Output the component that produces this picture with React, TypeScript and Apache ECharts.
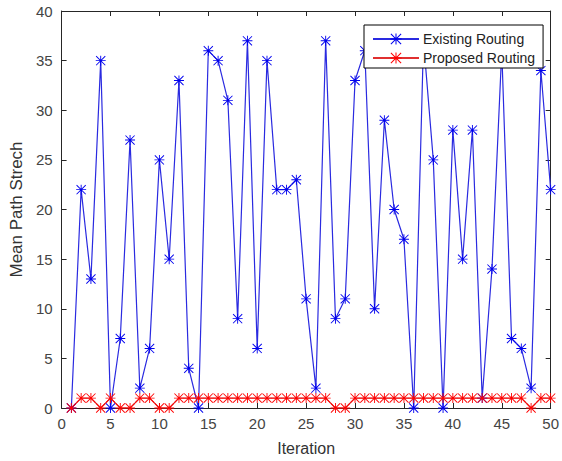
import React, { useEffect, useRef } from "react";
import * as echarts from "echarts";

const iterations = [
  1, 2, 3, 4, 5, 6, 7, 8, 9, 10, 11, 12, 13, 14, 15, 16, 17, 18, 19, 20, 21, 22, 23, 24, 25,
  26, 27, 28, 29, 30, 31, 32, 33, 34, 35, 36, 37, 38, 39, 40, 41, 42, 43, 44, 45, 46, 47, 48, 49, 50,
];
const existingRouting = [
  0, 22, 13, 35, 0, 7, 27, 2, 6, 25, 15, 33, 4, 0, 36, 35, 31, 9, 37, 6, 35, 22, 22, 23, 11,
  2, 37, 9, 11, 33, 36, 10, 29, 20, 17, 0, 37, 25, 0, 28, 15, 28, 1, 14, 36, 7, 6, 2, 34, 22,
];
const proposedRouting = [
  0, 1, 1, 0, 1, 0, 0, 1, 1, 0, 0, 1, 1, 1, 1, 1, 1, 1, 1, 1, 1, 1, 1, 1, 1,
  1, 1, 0, 0, 1, 1, 1, 1, 1, 1, 1, 1, 1, 1, 1, 1, 1, 1, 1, 1, 1, 1, 0, 1, 1,
];
const seriesNames = ["Existing Routing", "Proposed Routing"];
const xTicks = { min: 0, max: 50, interval: 5 };
const yTicks = { min: 0, max: 40, interval: 5 };

const STAR =
  "path://M4.55 0h0.9v10h-0.9zM0 4.55h10v0.9h-10zM0.75 0.1L9.9 9.25L9.25 9.9L0.1 0.75zM9.25 0.1L9.9 0.75L0.75 9.9L0.1 9.25z";

const FONT = "Liberation Sans, Arial, Helvetica, sans-serif";
const AX = "#262626";

export default function App() {
  const ref = useRef<HTMLDivElement>(null);
  useEffect(() => {
    if (!ref.current) return;
    const chart = echarts.init(ref.current, null, { renderer: "svg" });
    const mk = (vals: number[]) => iterations.map((x, i) => [x, vals[i]]);
    const baseAxis = {
      type: "value" as const,
      axisLine: { show: true, onZero: false, lineStyle: { color: AX, width: 1 } },
      axisTick: { show: true, inside: true, length: 5, lineStyle: { color: AX } },
      splitLine: { show: false },
    };
    chart.setOption({
      animation: false,
      backgroundColor: "#ffffff",
      textStyle: { fontFamily: FONT },
      grid: { left: 56, right: 6, top: 11, bottom: 51, containLabel: false },
      legend: {
        data: seriesNames,
        orient: "vertical",
        left: 364,
        top: 25,
        padding: [7, 8, 3, 8],
        itemGap: 5,
        itemWidth: 46,
        itemHeight: 14,
        backgroundColor: "#ffffff",
        borderColor: "#000000",
        borderWidth: 1,
        borderRadius: 0,
        textStyle: { fontSize: 14, color: "#222", fontFamily: FONT, padding: [0, 0, 0, -1] },
      },
      xAxis: [
        {
          ...baseAxis,
          position: "bottom",
          ...xTicks,
          name: "Iteration",
          nameLocation: "middle",
          nameGap: 32,
          nameTextStyle: { fontSize: 16, color: "#333", fontFamily: FONT },
          axisLabel: { fontSize: 15, color: "#444", margin: 8, fontFamily: FONT },
        },
        {
          ...baseAxis,
          position: "top",
          ...xTicks,
          axisLabel: { show: false },
        },
      ],
      yAxis: [
        {
          ...baseAxis,
          position: "left",
          ...yTicks,
          name: "Mean Path Strech",
          nameLocation: "middle",
          nameGap: 29,
          nameTextStyle: { fontSize: 17, color: "#333", fontFamily: FONT },
          axisLabel: { fontSize: 15, color: "#444", margin: 9, fontFamily: FONT },
        },
        {
          ...baseAxis,
          position: "right",
          ...yTicks,
          axisLabel: { show: false },
        },
      ],
      series: [
        {
          name: seriesNames[0],
          type: "line",
          data: mk(existingRouting),
          symbol: STAR,
          symbolSize: 10,
          showAllSymbol: true,
          color: "#1010f0",
          lineStyle: { color: "#2a2ae0", width: 1.2 },
          itemStyle: { color: "#0000ee" },
        },
        {
          name: seriesNames[1],
          type: "line",
          data: mk(proposedRouting),
          symbol: STAR,
          symbolSize: 10,
          showAllSymbol: true,
          color: "#ff1010",
          lineStyle: { color: "#e03030", width: 1.2 },
          itemStyle: { color: "#ff0000" },
        },
      ],
    });
    return () => chart.dispose();
  }, []);
  return <div ref={ref} style={{ width: 562, height: 461, position: "absolute", left: 0, top: 0 }} />;
}
